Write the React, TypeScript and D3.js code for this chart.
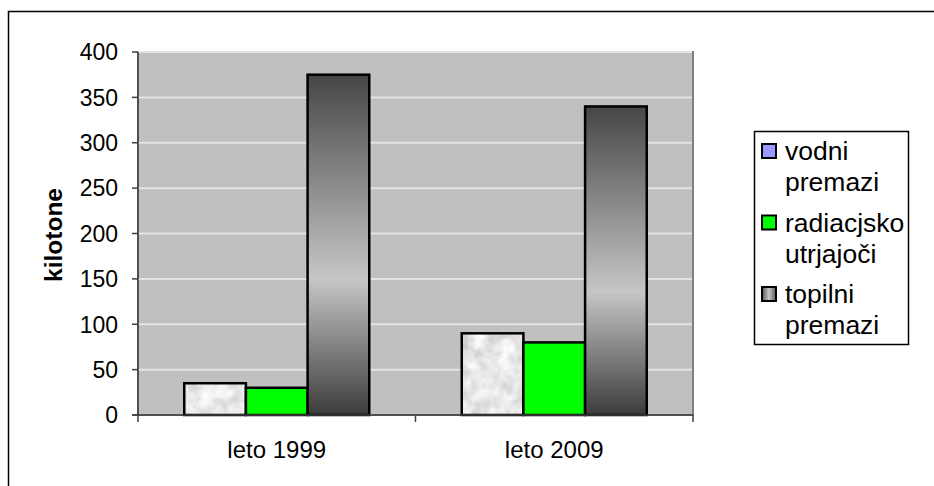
import React from "react";
import * as d3 from "d3";

const categories = ["leto 1999", "leto 2009"];
const seriesNames = ["vodni premazi", "radiacjsko utrjajoči", "topilni premazi"];
const legendLines = [["vodni", "premazi"], ["radiacjsko", "utrjajoči"], ["topilni", "premazi"]];
const vodni = [35, 90];
const radiacijsko = [30, 80];
const topilni = [375, 340];
const yTicks = [0, 50, 100, 150, 200, 250, 300, 350, 400];
const yTitle = "kilotone";

const W = 934;
const H = 486;
const plot = { left: 138, right: 693, top: 52, bottom: 415 };
const FONT = "Liberation Sans, Arial, sans-serif";

export default function App() {
  const values = [vodni, radiacijsko, topilni];
  const x0 = d3.scaleBand<string>().domain(categories).range([plot.left, plot.right]);
  // Gap width of 150% of one bar: band = 4.5 bar widths
  const barW = x0.bandwidth() / 4.5;
  const y = d3.scaleLinear().domain([0, 400]).range([plot.bottom, plot.top]);

  const fills = ["#d0d0d0", "#00ff00", "url(#topGrad)"];

  return (
    <svg width={W} height={H} style={{ position: "absolute", left: 0, top: 0, background: "#fff" }} fontFamily={FONT}>
      <defs>
        <linearGradient id="topGrad" x1="0" y1="0" x2="0" y2="1">
          <stop offset="0" stopColor="#464646" />
          <stop offset="0.6" stopColor="#c6c6c6" />
          <stop offset="1" stopColor="#3c3c3c" />
        </linearGradient>
        <linearGradient id="legGrad" x1="0" y1="0" x2="1" y2="0">
          <stop offset="0" stopColor="#555" />
          <stop offset="0.5" stopColor="#c6c6c6" />
          <stop offset="1" stopColor="#555" />
        </linearGradient>
        <filter id="marble" x="0" y="0" width="1" height="1" filterUnits="objectBoundingBox">
          <feTurbulence type="fractalNoise" baseFrequency="0.07" numOctaves="3" seed="4" result="n" />
          <feColorMatrix
            in="n"
            type="matrix"
            values="0.6 0 0 0 0.5  0.6 0 0 0 0.5  0.6 0 0 0 0.5  0 0 0 0 1"
            result="g"
          />
          <feComposite in="g" in2="SourceGraphic" operator="in" />
        </filter>
      </defs>

      {/* chart frame */}
      <rect x={8.5} y={11.5} width={2000} height={2000} fill="none" stroke="#000" strokeWidth={1.5} />

      {/* plot area */}
      <rect
        x={plot.left}
        y={plot.top}
        width={plot.right - plot.left}
        height={plot.bottom - plot.top}
        fill="#c0c0c0"
        stroke="#808080"
        strokeWidth={2}
      />
      {yTicks.filter((t) => t > 0).map((t) => (
        <line key={t} x1={plot.left} x2={plot.right - 1} y1={y(t)} y2={y(t)} stroke="#e4e4e4" strokeWidth={2} />
      ))}

      {/* bars */}
      {categories.map((c, ci) =>
        values.map((vals, si) => {
          const bx = (x0(c) as number) + barW * 0.75 + si * barW;
          const by = y(vals[ci]);
          const bh = plot.bottom - by;
          return (
            <g key={c + si}>
              <rect
                x={bx}
                y={by}
                width={barW}
                height={bh}
                fill={fills[si]}
                filter={si === 0 ? "url(#marble)" : undefined}
              />
              <rect x={bx} y={by} width={barW} height={bh} fill="none" stroke="#000" strokeWidth={2.5} />
            </g>
          );
        })
      )}

      {/* y axis */}
      <line x1={plot.left} x2={plot.left} y1={plot.top} y2={plot.bottom} stroke="#404040" strokeWidth={1.5} />
      {yTicks.map((t) => (
        <g key={t}>
          <line x1={plot.left - 6} x2={plot.left} y1={y(t)} y2={y(t)} stroke="#404040" strokeWidth={1.5} />
          <text x={118} y={y(t)} dy="0.36em" textAnchor="end" fontSize={23} fill="#000">
            {t}
          </text>
        </g>
      ))}

      {/* x axis */}
      <line x1={plot.left - 6} x2={plot.right} y1={plot.bottom} y2={plot.bottom} stroke="#404040" strokeWidth={1.5} />
      {[plot.left, ...categories.map((c) => (x0(c) as number) + x0.bandwidth())].map((tx, i) => (
        <line key={i} x1={tx} x2={tx} y1={plot.bottom} y2={plot.bottom + 7} stroke="#404040" strokeWidth={1.5} />
      ))}
      {categories.map((c) => (
        <text key={c} x={(x0(c) as number) + x0.bandwidth() / 2} y={458} textAnchor="middle" fontSize={24} fill="#000">
          {c}
        </text>
      ))}

      <text
        transform={`translate(62,235) rotate(-90)`}
        textAnchor="middle"
        fontSize={24.5}
        fontWeight="bold"
        fill="#000"
      >
        {yTitle}
      </text>

      {/* legend */}
      <rect x={754.5} y={131.5} width={154} height={213} fill="#fff" stroke="#000" strokeWidth={1.5} />
      {seriesNames.map((name, i) => {
        const top = 144 + i * 71.5;
        const swFill = i === 0 ? "#9999ff" : i === 1 ? "#00ff00" : "url(#legGrad)";
        return (
          <g key={name}>
            <rect x={762} y={top} width={14} height={14} fill={swFill} stroke="#000" strokeWidth={2} />
            {legendLines[i].map((ln, li) => (
              <text key={li} x={785} y={top + 16 + li * 31} fontSize={26.5} fill="#000">
                {ln}
              </text>
            ))}
          </g>
        );
      })}
    </svg>
  );
}
